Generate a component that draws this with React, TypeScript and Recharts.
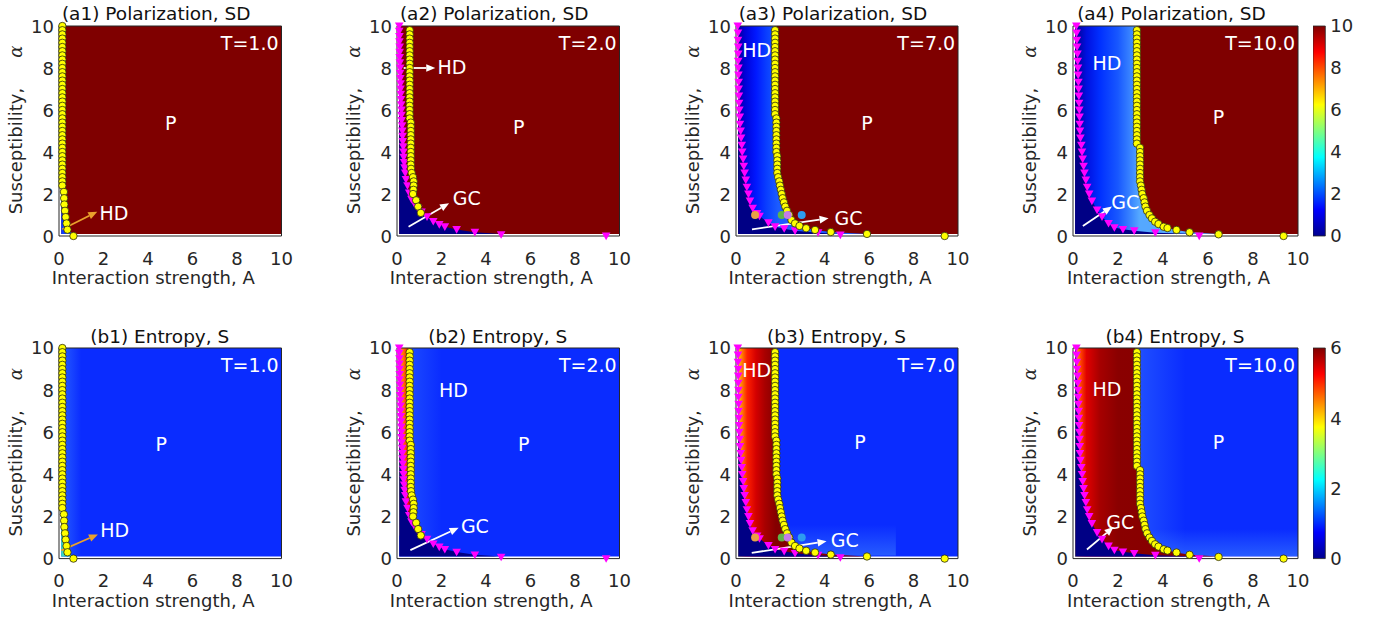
import React from 'react';
import {
  ComposedChart, XAxis, YAxis, Area, Scatter, ReferenceArea, ReferenceLine, ReferenceDot, Label,
} from 'recharts';

type Pt = [number, number]; // [A, alpha]

const FONT = '"DejaVu Sans", sans-serif';
const INK = '#262626';
const AXIS_TICKS = [0, 2, 4, 6, 8, 10];
const CBAR_TICKS_SD = [0, 2, 4, 6, 8, 10];
const CBAR_TICKS_S = [0, 2, 4, 6];

// ---- yellow circles (boundary of P phase) ----
const YELLOW_T1: Pt[] = [
  [0.15, 10.0], [0.15, 9.8], [0.15, 9.6], [0.15, 9.4], [0.15, 9.2], [0.15, 9.0], [0.15, 8.8], [0.15, 8.6], [0.15, 8.4], [0.15, 8.2],
  [0.15, 8.0], [0.15, 7.8], [0.15, 7.6], [0.15, 7.4], [0.15, 7.2], [0.15, 7.0], [0.15, 6.8], [0.15, 6.6], [0.15, 6.4], [0.15, 6.2],
  [0.15, 6.0], [0.15, 5.8], [0.15, 5.6], [0.15, 5.4], [0.15, 5.2], [0.15, 5.0], [0.15, 4.8], [0.15, 4.6], [0.15, 4.4], [0.15, 4.2],
  [0.15, 4.0], [0.15, 3.8], [0.15, 3.6], [0.15, 3.4], [0.15, 3.2], [0.15, 3.0], [0.15, 2.8], [0.15, 2.6], [0.15, 2.4],
  [0.22, 2.1], [0.23, 1.8], [0.24, 1.5], [0.27, 1.2], [0.3, 0.9], [0.34, 0.6], [0.38, 0.3], [0.65, 0.0],
];
const YELLOW_T2: Pt[] = [
  [0.57, 9.8], [0.57, 9.6], [0.57, 9.4], [0.57, 9.2], [0.57, 9.0], [0.57, 8.8], [0.57, 8.6], [0.57, 8.4], [0.57, 8.2], [0.57, 8.0],
  [0.57, 7.8], [0.57, 7.6], [0.57, 7.4], [0.57, 7.2], [0.57, 7.0], [0.57, 6.8], [0.57, 6.6], [0.57, 6.4], [0.57, 6.2], [0.57, 6.0],
  [0.57, 5.8], [0.57, 5.6], [0.62, 5.4], [0.62, 5.2], [0.62, 5.0], [0.62, 4.8], [0.62, 4.6], [0.62, 4.4], [0.62, 4.2], [0.62, 4.0],
  [0.62, 3.8], [0.62, 3.6], [0.62, 3.4], [0.63, 3.2], [0.66, 3.0], [0.72, 2.8], [0.75, 2.6], [0.75, 2.4], [0.74, 2.2], [0.72, 2.0],
  [0.86, 1.7], [0.95, 1.4], [1.07, 1.1],
];
const YELLOW_T7: Pt[] = [
  [1.76, 9.8], [1.76, 9.6], [1.76, 9.4], [1.76, 9.2], [1.76, 9.0], [1.76, 8.8], [1.76, 8.6], [1.76, 8.4], [1.76, 8.2], [1.76, 8.0],
  [1.76, 7.8], [1.76, 7.6], [1.76, 7.4], [1.76, 7.2], [1.76, 7.0], [1.76, 6.8], [1.76, 6.6], [1.76, 6.4], [1.76, 6.2], [1.76, 6.0],
  [1.76, 5.8], [1.82, 5.6], [1.82, 5.4], [1.82, 5.2], [1.82, 5.0], [1.82, 4.8], [1.82, 4.6], [1.82, 4.4], [1.82, 4.2], [1.82, 4.0],
  [1.86, 3.8], [1.86, 3.6], [1.86, 3.4], [1.86, 3.2], [1.86, 3.0], [1.9, 2.8], [1.95, 2.6], [1.98, 2.4], [2.02, 2.2], [2.06, 2.0],
  [2.1, 1.8], [2.16, 1.6], [2.22, 1.4], [2.3, 1.2], [2.4, 1.0], [2.5, 0.76], [2.66, 0.6], [2.86, 0.48], [3.16, 0.37], [3.56, 0.29],
  [4.27, 0.19], [5.9, 0.1], [9.4, 0.0],
];
const YELLOW_T10: Pt[] = [
  [2.84, 9.8], [2.84, 9.6], [2.84, 9.4], [2.84, 9.2], [2.84, 9.0], [2.84, 8.8], [2.84, 8.6], [2.84, 8.4], [2.84, 8.2], [2.84, 8.0],
  [2.84, 7.8], [2.84, 7.6], [2.84, 7.4], [2.84, 7.2], [2.84, 7.0], [2.84, 6.8], [2.84, 6.6], [2.84, 6.4], [2.84, 6.2], [2.84, 6.0],
  [2.84, 5.8], [2.84, 5.6], [2.84, 5.4], [2.84, 5.2], [2.84, 5.0], [2.84, 4.8], [2.84, 4.6], [2.84, 4.4], [2.98, 4.2], [2.98, 4.0],
  [2.98, 3.8], [2.98, 3.6], [2.98, 3.4], [2.98, 3.2], [2.98, 3.0], [2.98, 2.8], [2.98, 2.6], [3.02, 2.4], [3.05, 2.2], [3.08, 2.0],
  [3.14, 1.8], [3.18, 1.6], [3.22, 1.4], [3.29, 1.2], [3.4, 1.0], [3.51, 0.84], [3.65, 0.68], [3.8, 0.57], [4.03, 0.44], [4.2, 0.38],
  [4.6, 0.29], [5.18, 0.18], [6.47, 0.08], [9.36, 0.0],
];

// ---- magenta triangles (boundary of GC phase) ----
const MAGENTA_T1: Pt[] = [];
const MAGENTA_T2: Pt[] = [
  [0.1, 10.0], [0.1, 9.75], [0.11, 9.5], [0.11, 9.25], [0.12, 9.0], [0.12, 8.75], [0.12, 8.5], [0.13, 8.25], [0.14, 8.0], [0.14, 7.75],
  [0.15, 7.5], [0.16, 7.25], [0.16, 7.0], [0.17, 6.75], [0.18, 6.5], [0.19, 6.25], [0.2, 6.0], [0.2, 5.75], [0.21, 5.5], [0.23, 5.25],
  [0.24, 5.0], [0.25, 4.75], [0.26, 4.5], [0.28, 4.25], [0.29, 4.0], [0.3, 3.75], [0.32, 3.5], [0.34, 3.25], [0.37, 3.0], [0.4, 2.7],
  [0.47, 2.4], [0.55, 2.05], [0.65, 1.75], [0.78, 1.55], [0.95, 1.3], [1.1, 1.15], [1.35, 0.92], [1.63, 0.7], [1.9, 0.55], [2.15, 0.44],
  [2.68, 0.31], [3.5, 0.18], [4.68, 0.07], [9.4, 0.0],
];
const MAGENTA_T7: Pt[] = [
  [0.08, 10.0], [0.09, 9.67], [0.09, 9.33], [0.1, 9.0], [0.1, 8.67], [0.1, 8.33], [0.11, 8.0], [0.11, 7.67], [0.12, 7.33], [0.12, 7.0],
  [0.13, 6.67], [0.14, 6.33], [0.15, 6.0], [0.17, 5.67], [0.18, 5.33], [0.21, 5.0], [0.23, 4.67], [0.26, 4.33], [0.28, 4.0], [0.32, 3.67],
  [0.35, 3.33], [0.39, 3.0], [0.44, 2.67], [0.49, 2.33], [0.56, 2.0], [0.63, 1.67], [0.75, 1.33], [0.95, 1.08], [1.06, 0.95], [1.46, 0.63],
  [1.76, 0.44], [2.17, 0.35], [2.66, 0.25], [3.7, 0.16], [4.7, 0.05],
];
const MAGENTA_T10: Pt[] = [
  [0.15, 10.0], [0.16, 9.67], [0.17, 9.33], [0.18, 9.0], [0.2, 8.67], [0.21, 8.33], [0.22, 8.0], [0.23, 7.67], [0.24, 7.33], [0.25, 7.0],
  [0.26, 6.67], [0.27, 6.33], [0.28, 6.0], [0.29, 5.67], [0.3, 5.33], [0.31, 5.0], [0.33, 4.67], [0.37, 4.33], [0.4, 4.0], [0.43, 3.67],
  [0.47, 3.33], [0.51, 3.0], [0.57, 2.67], [0.63, 2.33], [0.72, 2.0], [0.84, 1.67], [1.07, 1.24], [1.29, 0.92], [1.58, 0.6], [1.84, 0.4],
  [2.22, 0.32], [2.72, 0.25], [3.66, 0.16], [5.61, 0.0],
];

// ---- special coloured points at T=7 ----
const SPECIAL_T7: Pt[] = [[0.86, 1.0], [2.06, 1.0], [2.33, 1.0], [2.96, 1.0]];
const SPECIAL_COLORS = ['#e9a244', '#5fb54a', '#c57be8', '#2d9cf0'];

const TITLES_SD = ['(a1) Polarization, SD', '(a2) Polarization, SD', '(a3) Polarization, SD', '(a4) Polarization, SD'];
const TITLES_S = ['(b1) Entropy, S', '(b2) Entropy, S', '(b3) Entropy, S', '(b4) Entropy, S'];
const T_LABELS = ['T=1.0', 'T=2.0', 'T=7.0', 'T=10.0'];

const JET: [number, string][] = [
  [0, '#00008f'], [0.125, '#0000ff'], [0.375, '#00ffff'], [0.625, '#ffff00'], [0.875, '#ff0000'], [1, '#800000'],
];

// ---- geometry (pixels) ----
const COLS = [
  { left: 58.5, w: 222.5 },
  { left: 397, w: 222.5 },
  { left: 736, w: 222 },
  { left: 1073, w: 225 },
];
const ROWS = [
  { top: 26, h: 210, titleDy: 13, titleDx: -14 },
  { top: 347.7, h: 210.6, titleDy: 11, titleDx: -10.5 },
];
const MT = 30, ML = 58, MR = 14, XH = 62;
const CB_LEFT = 1312.7, CB_W = 12.3, CB_AXW = 48;

type Note = { text: string; A: number; alpha: number };
type Arrow = { from: Pt; to: Pt; color: string };
// fade: 'r' = fades toward the right, 'u' = fades upward, undefined = flat
type Band = { x1: number; x2: number; y1: number; y2: number; fill: string; op: number; fade?: 'r' | 'u' };

type PanelCfg = {
  row: number; col: number; id: string; title: string; tLabel: string;
  yellow: Pt[]; magenta: Pt[]; special: Pt[];
  pColor: string; gcColor: string; hdStops: [number, string][];
  bands: Band[]; notes: Note[]; arrows: Arrow[];
};

const P_SD = '#7f0000';
const P_S = '#0a2cff';
const GC = '#000085';
const ORANGE = '#eaa12c';
const WHITE = '#ffffff';

const PANELS: PanelCfg[] = [
  {
    row: 0, col: 0, id: 'a1', title: TITLES_SD[0], tLabel: T_LABELS[0], yellow: YELLOW_T1, magenta: MAGENTA_T1, special: [],
    pColor: P_SD, gcColor: GC, hdStops: [[0, '#0a3cff'], [10, '#0a3cff']], bands: [],
    notes: [{ text: 'P', A: 5.02, alpha: 5.37 }, { text: 'HD', A: 2.47, alpha: 1.08 }],
    arrows: [{ from: [0.15, 0.32], to: [1.72, 1.16], color: ORANGE }],
  },
  {
    row: 0, col: 1, id: 'a2', title: TITLES_SD[1], tLabel: T_LABELS[1], yellow: YELLOW_T2, magenta: MAGENTA_T2, special: [],
    pColor: P_SD, gcColor: GC, hdStops: [[0, P_SD], [10, P_SD]], bands: [],
    notes: [{ text: 'P', A: 5.47, alpha: 5.2 }, { text: 'HD', A: 2.47, alpha: 8.06 }, { text: 'GC', A: 3.14, alpha: 1.8 }],
    arrows: [{ from: [0.3, 8.0], to: [1.72, 8.0], color: WHITE }, { from: [0.52, 0.44], to: [2.34, 1.56], color: WHITE }],
  },
  {
    row: 0, col: 2, id: 'a3', title: TITLES_SD[2], tLabel: T_LABELS[2], yellow: YELLOW_T7, magenta: MAGENTA_T7, special: SPECIAL_T7,
    pColor: P_SD, gcColor: GC,
    hdStops: [[0.1, '#00009a'], [0.4, '#0000d8'], [0.9, '#0018ff'], [1.4, '#0a40ff'], [1.9, '#1c5cff'], [10, '#1c5cff']],
    bands: [],
    notes: [{ text: 'P', A: 5.9, alpha: 5.37 }, { text: 'HD', A: 0.93, alpha: 8.86 }, { text: 'GC', A: 5.07, alpha: 0.84 }],
    arrows: [{ from: [0.72, 0.32], to: [4.17, 0.84], color: WHITE }],
  },
  {
    row: 0, col: 3, id: 'a4', title: TITLES_SD[3], tLabel: T_LABELS[3], yellow: YELLOW_T10, magenta: MAGENTA_T10, special: [],
    pColor: P_SD, gcColor: GC,
    hdStops: [[0.1, '#000090'], [0.6, '#0010e0'], [1.2, '#0030ff'], [2.0, '#1858ff'], [2.6, '#3c88ff'], [2.95, '#55a8ff'], [10, '#55a8ff']],
    bands: [],
    notes: [{ text: 'P', A: 6.47, alpha: 5.68 }, { text: 'HD', A: 1.51, alpha: 8.22 }, { text: 'GC', A: 2.32, alpha: 1.63 }],
    arrows: [{ from: [0.44, 0.48], to: [1.73, 1.4], color: WHITE }],
  },
  {
    row: 1, col: 0, id: 'b1', title: TITLES_S[0], tLabel: T_LABELS[0], yellow: YELLOW_T1, magenta: MAGENTA_T1, special: [],
    pColor: P_S, gcColor: GC, hdStops: [[0, '#38d8c0'], [10, '#38d8c0']],
    bands: [{ x1: 0.22, x2: 1.0, y1: 0.1, y2: 10, fill: '#2a62ff', op: 0.8, fade: 'r' }],
    notes: [{ text: 'P', A: 4.6, alpha: 5.46 }, { text: 'HD', A: 2.5, alpha: 1.34 }],
    arrows: [{ from: [0.11, 0.39], to: [1.75, 1.15], color: ORANGE }],
  },
  {
    row: 1, col: 1, id: 'b2', title: TITLES_S[1], tLabel: T_LABELS[1], yellow: YELLOW_T2, magenta: MAGENTA_T2, special: [],
    pColor: P_S, gcColor: GC,
    hdStops: [[0.1, '#ffc000'], [0.3, '#ff7000'], [0.5, '#f01000'], [0.7, '#b00000'], [10, '#b00000']],
    bands: [{ x1: 0.6, x2: 2.0, y1: 0.3, y2: 10, fill: '#2a62ff', op: 0.55, fade: 'r' }],
    notes: [{ text: 'P', A: 5.7, alpha: 5.46 }, { text: 'HD', A: 2.54, alpha: 8.0 }, { text: 'GC', A: 3.5, alpha: 1.53 }],
    arrows: [{ from: [0.6, 0.4], to: [2.77, 1.47], color: WHITE }],
  },
  {
    row: 1, col: 2, id: 'b3', title: TITLES_S[2], tLabel: T_LABELS[2], yellow: YELLOW_T7, magenta: MAGENTA_T7, special: SPECIAL_T7,
    pColor: P_S, gcColor: GC,
    hdStops: [[0.1, '#ffd000'], [0.25, '#ff8800'], [0.5, '#ff2000'], [0.9, '#d40000'], [1.3, '#a80000'], [1.8, '#840000'], [10, '#840000']],
    bands: [{ x1: 2.0, x2: 7.2, y1: 0.15, y2: 1.6, fill: '#3a7aff', op: 0.6, fade: 'u' }],
    notes: [{ text: 'P', A: 5.58, alpha: 5.54 }, { text: 'HD', A: 0.93, alpha: 8.94 }, { text: 'GC', A: 4.9, alpha: 0.87 }],
    arrows: [{ from: [0.71, 0.27], to: [4.08, 0.82], color: WHITE }],
  },
  {
    row: 1, col: 3, id: 'b4', title: TITLES_S[3], tLabel: T_LABELS[3], yellow: YELLOW_T10, magenta: MAGENTA_T10, special: [],
    pColor: P_S, gcColor: GC,
    hdStops: [[0.15, '#ffb000'], [0.35, '#ff4000'], [0.6, '#e00000'], [1.2, '#a60000'], [2.0, '#8a0000'], [10, '#800000']],
    bands: [
      { x1: 2.9, x2: 5.0, y1: 0.3, y2: 10, fill: '#3a7aff', op: 0.45, fade: 'r' },
      { x1: 3.0, x2: 10, y1: 0.12, y2: 1.4, fill: '#3a7aff', op: 0.6, fade: 'u' },
    ],
    notes: [{ text: 'P', A: 6.47, alpha: 5.54 }, { text: 'HD', A: 1.51, alpha: 8.07 }, { text: 'GC', A: 2.1, alpha: 1.74 }],
    arrows: [{ from: [0.62, 0.43], to: [1.8, 1.5], color: WHITE }],
  },
];

// region table (heatmap grid starts at 0.1) built from the boundary markers
function buildRegion(yellow: Pt[], magenta: Pt[]) {
  const rows: any[] = [];
  if (yellow.length) {
    rows.push({ alpha: 10, hd: yellow[0][0] });
    yellow.forEach(([A, al]) => rows.push({ alpha: Math.max(al, 0.1), hd: A }));
  }
  if (magenta.length) {
    rows.push({ alpha: 10, gc: magenta[0][0] });
    magenta.forEach(([A, al]) => rows.push({ alpha: Math.max(al, 0.1), gc: A }));
  }
  return rows.sort((a, b) => b.alpha - a.alpha);
}

const xTick = (p: any) => (
  <text x={p.x} y={p.y + 22} textAnchor="middle" dominantBaseline="central" fontFamily={FONT} fontSize={18} fill={INK}>
    {p.payload.value}
  </text>
);
const yTick = (p: any) => (
  <text x={p.x - 5} y={p.y} textAnchor="end" dominantBaseline="central" fontFamily={FONT} fontSize={18} fill={INK}>
    {p.payload.value}
  </text>
);
const cbTick = (p: any) => (
  <text x={p.x + 5} y={p.y} textAnchor="start" dominantBaseline="central" fontFamily={FONT} fontSize={18} fill={INK}>
    {p.payload.value}
  </text>
);

const xLabel = (p: any) => {
  const vb = p.viewBox;
  return (
    <text x={vb.x + vb.width / 2 - 17} y={vb.y + 41.5} textAnchor="middle" dominantBaseline="central" fontFamily={FONT} fontSize={18} fill={INK}>
      Interaction strength, A
    </text>
  );
};
const yLabel = (p: any) => {
  const vb = p.viewBox;
  const cx = vb.x + vb.width - 44;
  const cy = vb.y + vb.height / 2 - 1;
  return (
    <text transform={`rotate(-90 ${cx} ${cy})`} x={cx} y={cy} textAnchor="middle" dominantBaseline="central" fontFamily={FONT} fontSize={18} fill={INK}>
      Susceptibility,
      <tspan dx={30} fontFamily='"DejaVu Serif", serif' fontStyle="italic">α</tspan>
    </text>
  );
};
const titleLabel = (title: string, dx: number, dy: number) => (p: any) => {
  const vb = p.viewBox;
  return (
    <text x={vb.x + vb.width / 2 + dx} y={vb.y - dy} textAnchor="middle" dominantBaseline="central" fontFamily={FONT} fontSize={18.5} fill="#111">
      {title}
    </text>
  );
};

const circleShape = (p: any) => (
  <circle cx={p.cx} cy={p.cy} r={3.7} fill="#ffff00" stroke="#2a2a10" strokeWidth={0.8} />
);
const triangleShape = (p: any) => (
  <polygon points={`${p.cx - 4.3},${p.cy - 3.4} ${p.cx + 4.3},${p.cy - 3.4} ${p.cx},${p.cy + 4.2}`} fill="#ff00ff" />
);
const specialShape = (p: any) => (
  <circle cx={p.cx} cy={p.cy} r={4} fill={SPECIAL_COLORS[p.index] || p.payload.color} />
);
const arrowShape = (color: string) => (p: any) => {
  const { x1, y1, x2, y2 } = p;
  const ang = Math.atan2(y2 - y1, x2 - x1);
  const L = 9, W = 3.8;
  const bx = x2 - L * Math.cos(ang), by = y2 - L * Math.sin(ang);
  const px = -Math.sin(ang) * W, py = Math.cos(ang) * W;
  return (
    <g>
      <line x1={x1} y1={y1} x2={bx} y2={by} stroke={color} strokeWidth={1.8} />
      <polygon points={`${x2},${y2} ${bx + px},${by + py} ${bx - px},${by - py}`} fill={color} />
    </g>
  );
};
const noteShape = (text: string, anchor: 'middle' | 'end') => (p: any) => (
  <text x={p.cx} y={p.cy} textAnchor={anchor} dominantBaseline="central" fontFamily={FONT} fontSize={19} fill="#ffffff">
    {text}
  </text>
);

function Panel({ cfg }: { cfg: PanelCfg }) {
  const { left, w } = COLS[cfg.col];
  const { top, h, titleDx, titleDy } = ROWS[cfg.row];
  const width = ML + w + MR;
  const height = MT + h + XH;
  const region = buildRegion(cfg.yellow, cfg.magenta);
  const yPts = cfg.yellow.map(([A, alpha]) => ({ A, alpha }));
  const mPts = cfg.magenta.map(([A, alpha]) => ({ A, alpha }));
  const sPts = cfg.special.map(([A, alpha], i) => ({ A, alpha, color: SPECIAL_COLORS[i] }));
  const gid = `hd-${cfg.id}`;
  return (
    <div style={{ position: 'absolute', left: left - ML, top: top - MT }}>
      <ComposedChart width={width} height={height} layout="vertical" data={region} margin={{ top: MT, right: MR, bottom: 0, left: 0 }}>
        <defs>
          <linearGradient id={gid} gradientUnits="userSpaceOnUse" x1={ML} x2={ML + w} y1={0} y2={0}>
            {cfg.hdStops.map(([a, c], i) => <stop key={i} offset={a / 10} stopColor={c} />)}
          </linearGradient>
          {cfg.bands.map((b, i) => (
            <linearGradient key={i} id={`band-${cfg.id}-${i}`} x1="0" y1={b.fade === 'u' ? '1' : '0'} x2={b.fade === 'r' ? '1' : '0'} y2="0">
              <stop offset={0} stopColor={b.fill} stopOpacity={b.op} />
              <stop offset={1} stopColor={b.fill} stopOpacity={b.fade ? 0 : b.op} />
            </linearGradient>
          ))}
        </defs>
        <XAxis xAxisId={0} type="number" dataKey="A" domain={[0, 10]} ticks={AXIS_TICKS} interval={0} height={XH}
          stroke={INK} tickLine={false} tickSize={0} tickMargin={0} tick={xTick} label={<Label content={xLabel} />} />
        <XAxis xAxisId="top" orientation="top" mirror type="number" domain={[0, 10]} ticks={AXIS_TICKS} interval={0}
          allowDataOverflow stroke={INK} tick={false} tickSize={4} label={<Label content={titleLabel(cfg.title, titleDx, titleDy)} />} />
        <XAxis xAxisId="bin" orientation="bottom" mirror type="number" domain={[0, 10]} ticks={AXIS_TICKS} interval={0}
          allowDataOverflow stroke={INK} tick={false} tickSize={4} axisLine={false} />
        <YAxis yAxisId={0} type="number" dataKey="alpha" domain={[0, 10]} ticks={AXIS_TICKS} interval={0} reversed width={ML}
          stroke={INK} tickLine={false} tickSize={0} tickMargin={0} tick={yTick} label={<Label content={yLabel} />} />
        <YAxis yAxisId="lin" orientation="left" mirror type="number" domain={[0, 10]} ticks={AXIS_TICKS} interval={0} reversed
          allowDataOverflow stroke={INK} tick={false} tickSize={4} axisLine={false} />
        <YAxis yAxisId="right" orientation="right" mirror type="number" domain={[0, 10]} ticks={AXIS_TICKS} interval={0} reversed
          allowDataOverflow stroke={INK} tick={false} tickSize={4} />

        <ReferenceArea x1={0.1} x2={10} y1={0.1} y2={10} fill={cfg.pColor} fillOpacity={1} stroke="none" />
        {cfg.bands.map((b, i) => (
          <ReferenceArea key={`b${i}`} x1={b.x1} x2={b.x2} y1={b.y1} y2={b.y2} fill={`url(#band-${cfg.id}-${i})`} fillOpacity={1} stroke="none" />
        ))}
        <Area dataKey="hd" type="linear" baseValue={0.1} fill={`url(#${gid})`} fillOpacity={1} stroke="none"
          connectNulls dot={false} activeDot={false} isAnimationActive={false} />
        <Area dataKey="gc" type="linear" baseValue={0.1} fill={cfg.gcColor} fillOpacity={1} stroke="none"
          connectNulls dot={false} activeDot={false} isAnimationActive={false} />

        {mPts.length > 0 && <Scatter data={mPts} shape={triangleShape} isAnimationActive={false} />}
        <Scatter data={yPts} shape={circleShape} isAnimationActive={false} />
        {sPts.length > 0 && <Scatter data={sPts} shape={specialShape} isAnimationActive={false} />}

        {cfg.arrows.map((a, i) => (
          <ReferenceLine key={`ar${i}`} segment={[{ x: a.from[0], y: a.from[1] }, { x: a.to[0], y: a.to[1] }]}
            shape={arrowShape(a.color)} />
        ))}
        {cfg.notes.map((n, i) => (
          <ReferenceDot key={`n${i}`} x={n.A} y={n.alpha} r={0} shape={noteShape(n.text, 'middle')} />
        ))}
        <ReferenceDot x={9.87} y={9.18} r={0} shape={noteShape(cfg.tLabel, 'end')} />
      </ComposedChart>
    </div>
  );
}

function ColorBar({ row, max, ticks, id }: { row: number; max: number; ticks: number[]; id: string }) {
  const { top, h } = ROWS[row];
  const data = [{ c: 0, v: 0 }, { c: 1, v: max }];
  return (
    <div style={{ position: 'absolute', left: CB_LEFT, top: top - MT }}>
      <ComposedChart width={CB_W + CB_AXW} height={MT + h + 20} data={data} margin={{ top: MT, right: 0, bottom: 20, left: 0 }}>
        <defs>
          <linearGradient id={id} x1="0" y1="1" x2="0" y2="0">
            {JET.map(([o, c], i) => <stop key={i} offset={o} stopColor={c} />)}
          </linearGradient>
        </defs>
        <XAxis type="number" dataKey="c" domain={[0, 1]} hide allowDataOverflow />
        <YAxis type="number" dataKey="v" orientation="right" domain={[0, max]} ticks={ticks} interval={0} width={CB_AXW}
          allowDataOverflow tickLine={false} axisLine={false} tickSize={0} tickMargin={0} tick={cbTick} />
        <YAxis yAxisId="m" type="number" orientation="right" mirror domain={[0, max]} ticks={ticks} interval={0}
          allowDataOverflow tick={false} tickSize={3} axisLine={false} stroke={INK} />
        <ReferenceArea x1={0} x2={1} y1={0} y2={max} fill={`url(#${id})`} fillOpacity={1} stroke={INK} strokeWidth={0.8} />
      </ComposedChart>
    </div>
  );
}

export default function App() {
  return (
    <div style={{ position: 'absolute', left: 0, top: 0, width: 1375, height: 617, background: '#ffffff', fontFamily: FONT, overflow: 'hidden' }}>
      {PANELS.map((cfg) => <Panel key={cfg.id} cfg={cfg} />)}
      <ColorBar row={0} max={10} ticks={CBAR_TICKS_SD} id="jet-sd" />
      <ColorBar row={1} max={6} ticks={CBAR_TICKS_S} id="jet-s" />
    </div>
  );
}
